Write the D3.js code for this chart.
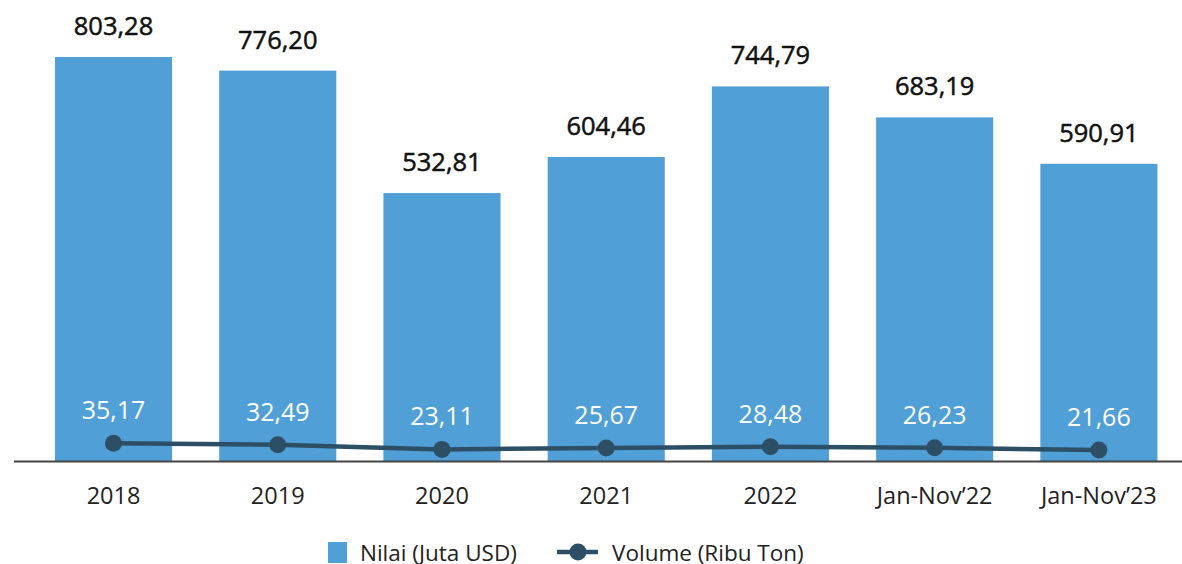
<!DOCTYPE html>
<html>
<head>
<meta charset="utf-8">
<script src="https://cdn.jsdelivr.net/npm/d3@7"></script>
<style>
	body { margin: 0; background: #fff; }
	svg { display: block; font-family: 'Open Sans', sans-serif; }
</style>
</head>
<body>
<div id="chart"></div>
<script>
const categories = ['2018', '2019', '2020', '2021', '2022', 'Jan-Nov\u201922', 'Jan-Nov\u201923'];
const nilai = [803.28, 776.20, 532.81, 604.46, 744.79, 683.19, 590.91];
const volume = [35.17, 32.49, 23.11, 25.67, 28.48, 26.23, 21.66];
const legendLabels = ['Nilai (Juta USD)', 'Volume (Ribu Ton)'];

const width = 1182, height = 564;
const barColor = '#519fd7', lineColor = '#2d4f66';
const fmt = v => v.toFixed(2).replace('.', ',');

let svg = d3.select('#chart').append('svg')
	.attr('width', width)
	.attr('height', height);

let x = d3.scaleBand()
	.domain(categories)
	.range([31.4, 1181])
	.paddingInner(0.287)
	.paddingOuter(0.1435);

let y = d3.scaleLinear()
	.domain([0, d3.max(nilai)])
	.range([461, 57]);

let data = categories.map((c, i) => ({cat: c, nilai: nilai[i], volume: volume[i]}));

// bars
svg.append('g')
	.selectAll('rect')
	.data(data)
	.enter().append('rect')
	.attr('x', d => x(d.cat))
	.attr('y', d => y(d.nilai))
	.attr('width', x.bandwidth())
	.attr('height', d => y(0) - y(d.nilai))
	.style('fill', barColor);

// bar value labels (slightly heavier than regular)
svg.append('g')
	.selectAll('text')
	.data(data)
	.enter().append('text')
	.attr('x', d => x(d.cat) + x.bandwidth() / 2)
	.attr('y', d => y(d.nilai) - 22)
	.style('text-anchor', 'middle')
	.style('font-size', '25.5px')
	.style('fill', '#111')
	.style('stroke', '#111')
	.style('stroke-width', 0.5)
	.text(d => fmt(d.nilai));

// x axis
let xAxis = svg.append('g')
	.attr('class', 'axis x--axis')
	.attr('transform', `translate(0, ${y(0)})`)
	.call(d3.axisBottom(x).tickSize(0).tickPadding(26));
xAxis.select('path').remove();
xAxis.selectAll('text')
	.style('font-size', '23.5px')
	.style('font-family', "'Open Sans', sans-serif")
	.style('fill', '#222');
svg.append('line')
	.attr('x1', 14).attr('x2', width)
	.attr('y1', y(0) + 0.5).attr('y2', y(0) + 0.5)
	.style('stroke', '#444')
	.style('stroke-width', 2);

// volume line
let cx = d => x(d.cat) + x.bandwidth() / 2;
svg.append('path')
	.datum(data)
	.attr('d', d3.line().x(cx).y(d => y(d.volume)))
	.style('fill', 'none')
	.style('stroke', lineColor)
	.style('stroke-width', 4.5);

svg.append('g')
	.selectAll('circle')
	.data(data)
	.enter().append('circle')
	.attr('cx', cx)
	.attr('cy', d => y(d.volume))
	.attr('r', 8.5)
	.style('fill', lineColor);

svg.append('g')
	.selectAll('text')
	.data(data)
	.enter().append('text')
	.attr('x', cx)
	.attr('y', d => y(d.volume) - 24)
	.style('text-anchor', 'middle')
	.style('font-size', '25px')
	.style('fill', '#fff')
	.text(d => fmt(d.volume));

// legend
let legend = svg.append('g');
legend.append('rect')
	.attr('x', 328).attr('y', 542)
	.attr('width', 19).attr('height', 21)
	.style('fill', barColor);
legend.append('text')
	.attr('x', 360).attr('y', 561)
	.style('font-size', '22.5px')
	.style('fill', '#222')
	.text(legendLabels[0]);
legend.append('line')
	.attr('x1', 557).attr('x2', 598)
	.attr('y1', 552).attr('y2', 552)
	.style('stroke', lineColor)
	.style('stroke-width', 4.5);
legend.append('circle')
	.attr('cx', 578).attr('cy', 552).attr('r', 8.5)
	.style('fill', lineColor);
legend.append('text')
	.attr('x', 612).attr('y', 561)
	.style('font-size', '22.5px')
	.style('fill', '#222')
	.text(legendLabels[1]);
</script>
</body>
</html>
